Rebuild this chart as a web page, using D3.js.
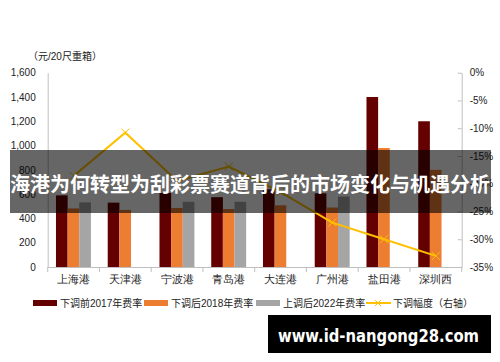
<!DOCTYPE html>
<html>
<head>
<meta charset="utf-8">
<script src="https://cdn.jsdelivr.net/npm/d3@7"></script>
<style>
  body { margin: 0; background: #fff; }
  svg { display: block; font-family: "Liberation Sans", "Noto Sans CJK SC", sans-serif; }
</style>
</head>
<body>
<div id="chart"></div>
<script>
// data
var ports = ["上海港", "天津港", "宁波港", "青岛港", "大连港", "广州港", "盐田港", "深圳西"];
var fee2017 = [590, 530, 610, 575, 640, 607, 1400, 1200];
var fee2018 = [482, 470, 486, 477, 508, 490, 980, 800];
var fee2022 = [532, null, 537, 537, null, 580, null, null];
var cutPct = [-18.6, -10.8, -19.5, -16.9, -21.5, -27.0, -30.0, -33.0];
var leftTicks = [0, 200, 400, 600, 800, 1000, 1200, 1400, 1600];
var rightTicks = [0, -5, -10, -15, -20, -25, -30, -35];
var seriesNames = ["下调前2017年费率", "下调后2018年费率", "上调后2022年费率", "下调幅度（右轴）"];
var colors = ["#650000", "#ED7D31", "#A5A5A5", "#FFC000"];

var W = 500, H = 362;
// plot edges (note: "top" is reserved on window)
var pL = 47.7, pR = 461.7, pT = 72.7, pB = 267;

var svg = d3.select("#chart").append("svg")
    .attr("width", W)
    .attr("height", H);

var x = d3.scaleBand().domain(ports).range([pL, pR]).padding(0);
var bw = x.bandwidth();
var sub = d3.scaleBand().domain([0, 1, 2]).range([bw * 0.16, bw * 0.835]).padding(0);
var y = d3.scaleLinear().domain([0, 1600]).range([pB, pT]);
var y2 = d3.scaleLinear().domain([-35, 0]).range([pB, pT]);

// unit label
svg.append("text")
    .attr("x", 28).attr("y", 60)
    .attr("font-size", 10).attr("fill", "#222")
    .text("（元/20尺重箱）");

// left axis
var ga = svg.append("g").attr("transform", "translate(" + pL + ",0)")
    .call(d3.axisLeft(y).tickValues(leftTicks).tickSize(0).tickPadding(12).tickFormat(d3.format(",")));
ga.select(".domain").attr("stroke", "#bfbfbf");
ga.selectAll("text").attr("font-size", 10).attr("fill", "#222").attr("font-family", "Liberation Sans");

// right axis
var gr = svg.append("g").attr("transform", "translate(" + pR + ",0)")
    .call(d3.axisRight(y2).tickValues(rightTicks).tickSize(0).tickPadding(8).tickFormat(function(d) { return d + "%"; }));
gr.select(".domain").attr("stroke", "#bfbfbf");
gr.selectAll("text").attr("font-size", 10).attr("fill", "#222").attr("font-family", "Liberation Sans");
gr.selectAll(".tick").append("line").attr("x1", -4).attr("x2", 0).attr("stroke", "#bfbfbf");

// bars
var rows = ports.map(function(p, i) { return { port: p, vals: [fee2017[i], fee2018[i], fee2022[i]] }; });
var grp = svg.selectAll(".grp").data(rows).enter().append("g")
    .attr("transform", function(d) { return "translate(" + x(d.port) + ",0)"; });
grp.selectAll("rect")
    .data(function(d) { return d.vals.map(function(v, k) { return { k: k, v: v }; }).filter(function(e) { return e.v != null; }); })
    .enter().append("rect")
    .attr("x", function(d) { return sub(d.k); })
    .attr("width", sub.bandwidth())
    .attr("y", function(d) { return y(d.v); })
    .attr("height", function(d) { return pB - y(d.v); })
    .attr("fill", function(d) { return colors[d.k]; });

// x axis
var gx = svg.append("g").attr("transform", "translate(0," + pB + ")")
    .call(d3.axisBottom(x).tickSize(0).tickPadding(9));
gx.select(".domain").attr("stroke", "#bfbfbf");
gx.selectAll("text").attr("font-size", 10.5).attr("fill", "#222");
gx.selectAll(".bnd").data(d3.range(ports.length + 1)).enter().append("line")
    .attr("x1", function(i) { return pL + i * bw; })
    .attr("x2", function(i) { return pL + i * bw; })
    .attr("y1", 0).attr("y2", 5).attr("stroke", "#bfbfbf");

// line on right axis
var cx = function(d, i) { return x(ports[i]) + bw / 2; };
svg.append("path")
    .datum(cutPct)
    .attr("fill", "none").attr("stroke", colors[3]).attr("stroke-width", 2)
    .attr("d", d3.line().x(cx).y(function(d) { return y2(d); }));
var mk = 4;
svg.selectAll(".mk").data(cutPct).enter().append("path")
    .attr("transform", function(d, i) { return "translate(" + cx(d, i) + "," + y2(d) + ")"; })
    .attr("d", "M" + -mk + "," + -mk + "L" + mk + "," + mk + "M" + -mk + "," + mk + "L" + mk + "," + -mk)
    .attr("stroke", colors[3]).attr("stroke-width", 1);

// legend
var legX = [33, 144, 256, 366];
var leg = svg.selectAll(".leg").data(seriesNames).enter().append("g")
    .attr("transform", function(d, i) { return "translate(" + legX[i] + ",303)"; });
leg.each(function(d, i) {
  var g = d3.select(this);
  if (i < 3) {
    g.append("rect").attr("x", 0).attr("y", -3).attr("width", 24).attr("height", 6).attr("fill", colors[i]);
  } else {
    g.append("line").attr("x1", 0).attr("x2", 25).attr("stroke", colors[3]).attr("stroke-width", 2);
    g.append("path").attr("d", "M9,-3L15,3M9,3L15,-3").attr("stroke", colors[3]);
  }
  g.append("text").attr("x", 27).attr("y", 4).attr("font-size", 10).attr("fill", "#222").text(d);
});

// overlay banner
svg.append("rect").attr("x", 10).attr("y", 150).attr("width", 481).attr("height", 63)
    .attr("fill", "#000").attr("opacity", 0.6);
svg.append("text")
    .attr("x", 250).attr("y", 192).attr("text-anchor", "middle")
    .attr("font-size", 20).attr("font-weight", "bold").attr("fill", "#fff")
    .attr("font-family", "Noto Sans CJK SC")
    .text("海港为何转型为刮彩票赛道背后的市场变化与机遇分析");

// watermark
svg.append("rect").attr("x", 268).attr("y", 315).attr("width", 223).attr("height", 38).attr("fill", "#000");
svg.append("text")
    .attr("x", 278).attr("y", 342)
    .attr("font-size", 18).attr("font-weight", "bold").attr("fill", "#fff")
    .attr("font-family", "DejaVu Sans")
    .attr("textLength", 201).attr("lengthAdjust", "spacingAndGlyphs")
    .text("www.id-nangong28.com");
</script>
</body>
</html>
